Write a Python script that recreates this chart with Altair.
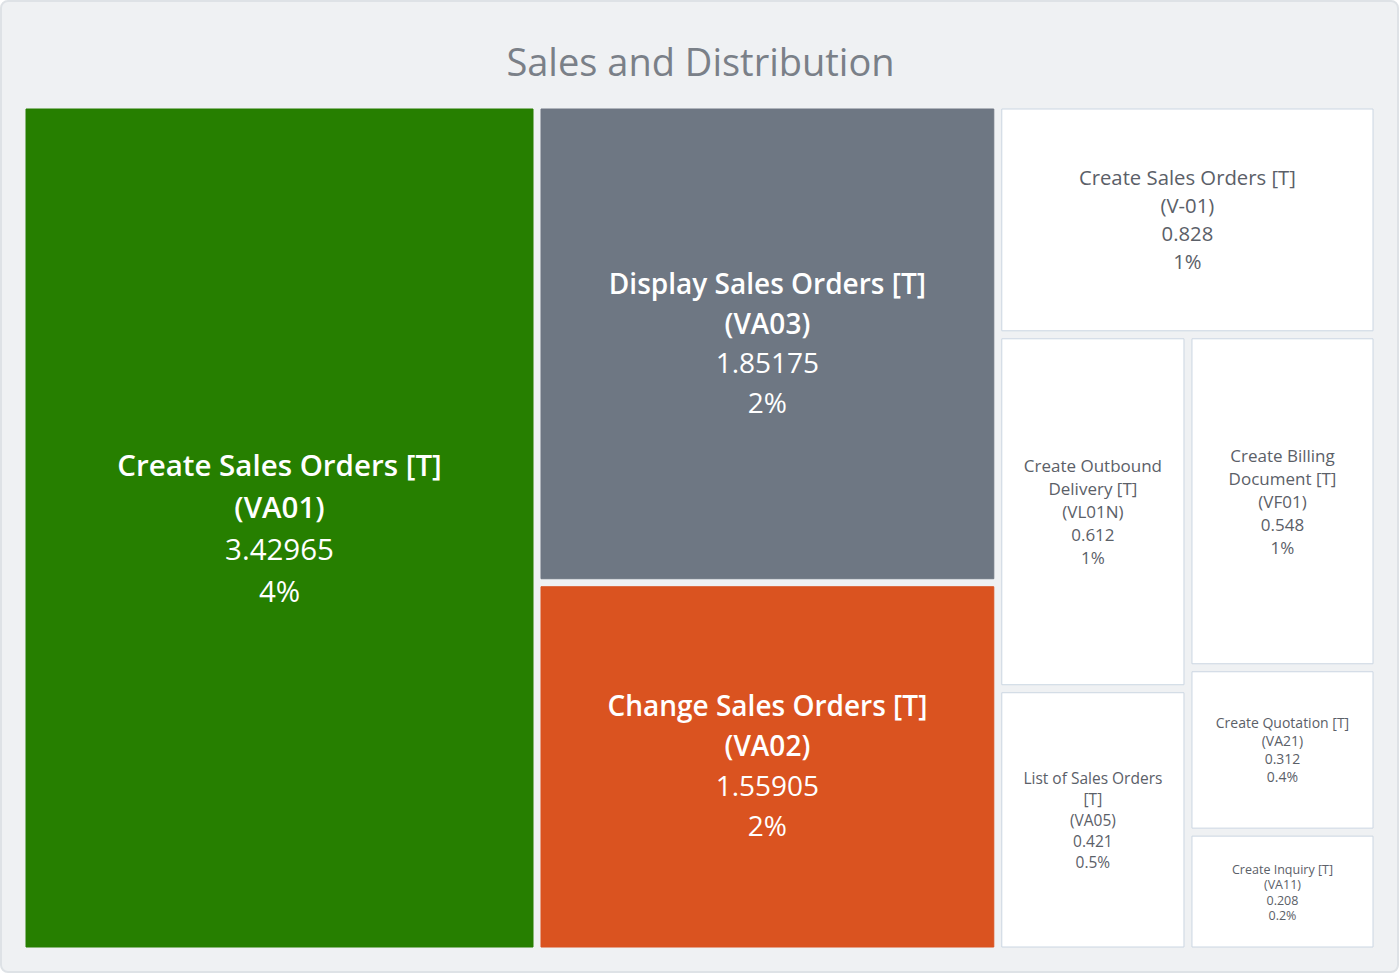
import textwrap

import altair as alt
import pandas as pd

# ---- data -------------------------------------------------------------
names = [
    "Create Sales Orders [T]",
    "Display Sales Orders [T]",
    "Change Sales Orders [T]",
    "Create Sales Orders [T]",
    "Create Outbound Delivery [T]",
    "List of Sales Orders [T]",
    "Create Billing Document [T]",
    "Create Quotation [T]",
    "Create Inquiry [T]",
]
codes = ["VA01", "VA03", "VA02", "V-01", "VL01N", "VA05", "VF01", "VA21", "VA11"]
values = [3.42965, 1.85175, 1.55905, 0.828, 0.612, 0.421, 0.548, 0.312, 0.208]
shares = ["4%", "2%", "2%", "1%", "1%", "0.5%", "1%", "0.4%", "0.2%"]
# relative tile area used for the treemap layout
weights = [0.380, 0.192, 0.148, 0.076, 0.0587, 0.0435, 0.0549, 0.0271, 0.0196]
title_text = "Sales and Distribution"

# ---- styling ----------------------------------------------------------
W, H = 1355, 846          # layout space (1 unit = 1 px)
GAP = 4                   # half of the gap between tiles
FILLS = {"VA01": "#267f00", "VA03": "#6e7783", "VA02": "#da5320"}
WHITE_FILL, WHITE_STROKE = "#ffffff", "#cbd6e2"
TEXT_DARK = "#5b6068"
# font size, line height, bold header
LABEL_STYLE = {
    "VA01": (29.5, 42, True),
    "VA03": (28, 39.5, True),
    "VA02": (28, 40, True),
    "V-01": (20.3, 28, False),
    "VL01N": (17, 23, False),
    "VF01": (17, 23, False),
    "VA05": (15.5, 21, False),
    "VA21": (14, 18, False),
    "VA11": (12.5, 15.5, False),
}

# slice-and-dice hierarchy: ("h", children) splits left->right, ("v", ...) top->bottom
TREE = ("h", [0, ("v", [1, 2]), ("v", [3, ("h", [("v", [4, 5]), ("v", [6, 7, 8])])])])


def total(node):
    if isinstance(node, int):
        return weights[node]
    return sum(total(c) for c in node[1])


def layout(node, x0, y0, x1, y1, out):
    if isinstance(node, int):
        out[node] = (x0, y0, x1, y1)
        return
    direction, children = node
    t = total(node)
    pos = x0 if direction == "h" else y0
    for c in children:
        frac = total(c) / t
        if direction == "h":
            step = (x1 - x0) * frac
            layout(c, pos, y0, pos + step, y1, out)
        else:
            step = (y1 - y0) * frac
            layout(c, x0, pos, x1, pos + step, out)
        pos += step


cells = {}
layout(TREE, 0, 0, W, H, cells)

tile_rows, text_rows = [], []
for i, code in enumerate(codes):
    x0, y0, x1, y1 = cells[i]
    x0, y0, x1, y1 = x0 + GAP, y0 + GAP, x1 - GAP, y1 - GAP
    fill = FILLS.get(code, WHITE_FILL)
    tile_rows.append({
        "code": code, "value": values[i],
        "x0": x0, "x1": x1, "y0": y0, "y1": y1,
        "fill": fill, "stroke": FILLS.get(code, WHITE_STROKE),
    })
    fs, lh, bold = LABEL_STYLE[code]
    chars = int((x1 - x0 - 20) / (0.5 * fs))
    head = textwrap.wrap(names[i], chars) + [f"({code})"]
    lines = [(t, bold) for t in head] + [(str(values[i]), False), (shares[i], False)]
    cx, cy = (x0 + x1) / 2, (y0 + y1) / 2
    n = len(lines)
    color = "#ffffff" if code in FILLS else TEXT_DARK
    for k, (t, b) in enumerate(lines):
        text_rows.append({
            "text": t, "x": cx, "y": cy + (k - (n - 1) / 2) * lh,
            "size": fs, "bold": b, "color": color,
        })

tiles = pd.DataFrame(tile_rows)
texts = pd.DataFrame(text_rows)

xs = alt.Scale(domain=[0, W], nice=False, zero=False)
ys = alt.Scale(domain=[0, H], nice=False, zero=False, reverse=True)

one = pd.DataFrame({"k": [0]})

# rounded card behind the whole chart
card = alt.Chart(one).mark_rect(
    fill="#eff1f3", stroke="#dee2e6", strokeWidth=2, cornerRadius=7
).encode(
    x=alt.value(-21), x2=alt.value(W + 21), y=alt.value(-104), y2=alt.value(H + 21)
)

heading = alt.Chart(one).mark_text(
    text=title_text, font="Open Sans", fontSize=38, color="#7a8088",
    align="center", baseline="alphabetic",
).encode(x=alt.value(W / 2 + 1), y=alt.value(-29))

rects = alt.Chart(tiles).mark_rect(strokeWidth=1).encode(
    x=alt.X("x0:Q", scale=xs, axis=None),
    x2="x1:Q",
    y=alt.Y("y0:Q", scale=ys, axis=None),
    y2="y1:Q",
    fill=alt.Fill("fill:N", scale=None),
    stroke=alt.Stroke("stroke:N", scale=None),
    tooltip=["code:N", "value:Q"],
)


def text_layer(bold):
    return alt.Chart(texts).transform_filter(
        alt.datum.bold if bold else ~alt.datum.bold
    ).mark_text(
        font="Open Sans", fontWeight=600 if bold else 400, baseline="middle",
        align="center", dy=1.5,
    ).encode(
        x=alt.X("x:Q", scale=xs, axis=None),
        y=alt.Y("y:Q", scale=ys, axis=None),
        text="text:N",
        size=alt.Size("size:Q", scale=None, legend=None),
        color=alt.Color("color:N", scale=None),
    )


chart = alt.layer(card, heading, rects, text_layer(True), text_layer(False)).properties(
    width=W,
    height=H,
    background="#ffffff",
    padding={"left": 22, "top": 105, "right": 23, "bottom": 23},
    autosize=alt.AutoSizeParams(type="none"),
).configure_view(stroke=None)

chart.save("out.html", embed_options={"renderer": "svg", "actions": False})
